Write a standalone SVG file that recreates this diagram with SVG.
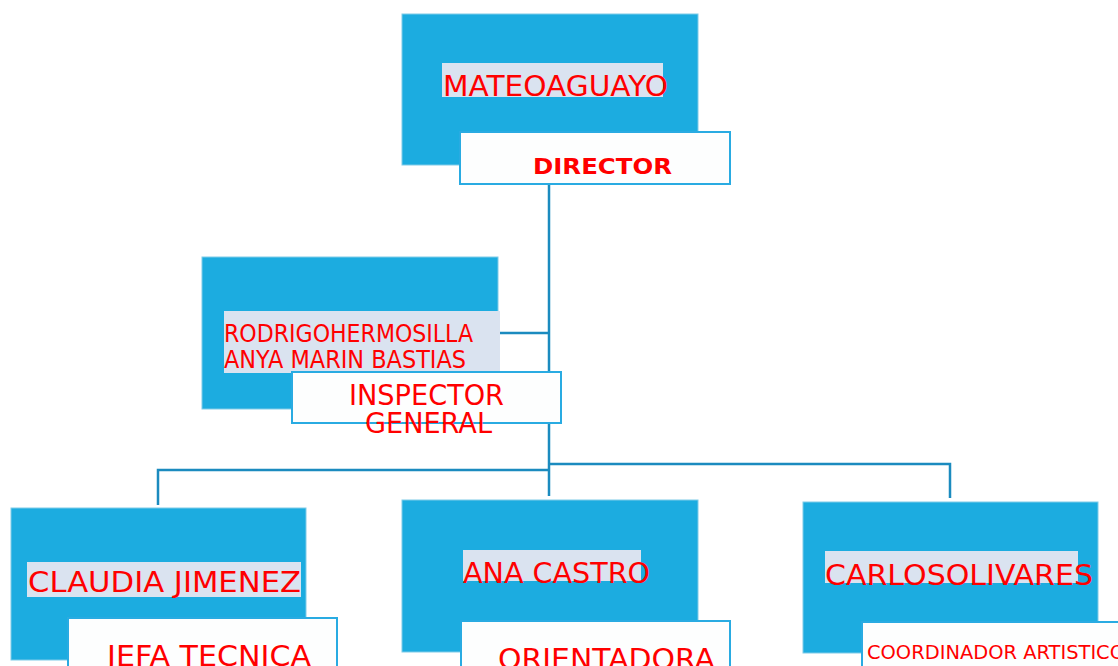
<svg xmlns="http://www.w3.org/2000/svg" width="1118" height="666" viewBox="0 0 1118 666">
<style>
.blue{fill:#1cace0;stroke:#7fcbe8;stroke-width:1}
.hl{fill:#dae3f0}
.wbox{fill:#fdfefe;stroke:#29abe2;stroke-width:2}
.name{font-family:"DejaVu Sans",Verdana,sans-serif;fill:#ff0000}
.role{font-family:"DejaVu Sans",Verdana,sans-serif;fill:#ff0000}
.conn{fill:none;stroke:#1b8bbf;stroke-width:2.5}
</style>
<rect width="1118" height="666" fill="#ffffff"/>
<g id="connectors">
<path class="conn" d="M549,184 V496"/>
<path class="conn" d="M500,333 H549"/>
<path class="conn" d="M549,470 H158 V505"/>
<path class="conn" d="M549,464 H950 V498"/>
</g>
<g id="node-director">
<rect class="blue" x="402" y="14" width="296" height="151"/>
<rect class="hl" x="442" y="63" width="221" height="34"/>
<text class="name" x="443" y="96" font-size="29" textLength="225" lengthAdjust="spacingAndGlyphs">MATEOAGUAYO</text>
<rect class="wbox" x="460" y="132" width="270" height="52"/>
<text class="role" x="533" y="174" font-size="22" font-weight="bold" textLength="139" lengthAdjust="spacingAndGlyphs">DIRECTOR</text>
</g>
<g id="node-inspector">
<rect class="blue" x="202" y="257" width="296" height="152"/>
<rect class="hl" x="224" y="311" width="276" height="62"/>
<text class="name" x="224" y="342" font-size="24" textLength="249" lengthAdjust="spacingAndGlyphs">RODRIGOHERMOSILLA</text>
<text class="name" x="224" y="368" font-size="24" textLength="242" lengthAdjust="spacingAndGlyphs">ANYA MARIN BASTIAS</text>
<rect class="wbox" x="292" y="372" width="269" height="51"/>
<text class="role" x="349" y="405" font-size="29" textLength="155" lengthAdjust="spacingAndGlyphs">INSPECTOR</text>
<text class="role" x="365" y="433" font-size="29" textLength="127" lengthAdjust="spacingAndGlyphs">GENERAL</text>
</g>
<g id="node-jefa">
<rect class="blue" x="11" y="508" width="295" height="152"/>
<rect class="hl" x="27" y="562" width="274" height="35"/>
<text class="name" x="28" y="592" font-size="29" textLength="273" lengthAdjust="spacingAndGlyphs">CLAUDIA JIMENEZ</text>
<rect class="wbox" x="68" y="618" width="269" height="60"/>
<text class="role" x="107" y="666" font-size="29" textLength="204" lengthAdjust="spacingAndGlyphs">JEFA TECNICA</text>
</g>
<g id="node-orientadora">
<rect class="blue" x="402" y="500" width="296" height="152"/>
<rect class="hl" x="463" y="550" width="178" height="31"/>
<text class="name" x="463" y="583" font-size="29" textLength="187" lengthAdjust="spacingAndGlyphs">ANA CASTRO</text>
<rect class="wbox" x="461" y="621" width="269" height="60"/>
<text class="role" x="498" y="669" font-size="29" textLength="217" lengthAdjust="spacingAndGlyphs">ORIENTADORA</text>
</g>
<g id="node-coordinador">
<rect class="blue" x="803" y="502" width="295" height="151"/>
<rect class="hl" x="825" y="551" width="253" height="32"/>
<text class="name" x="825" y="585" font-size="29" textLength="268" lengthAdjust="spacingAndGlyphs">CARLOSOLIVARES</text>
<rect class="wbox" x="862" y="622" width="269" height="60"/>
<text class="role" x="867" y="659" font-size="20" textLength="258" lengthAdjust="spacingAndGlyphs">COORDINADOR ARTISTICO</text>
</g>
</svg>
